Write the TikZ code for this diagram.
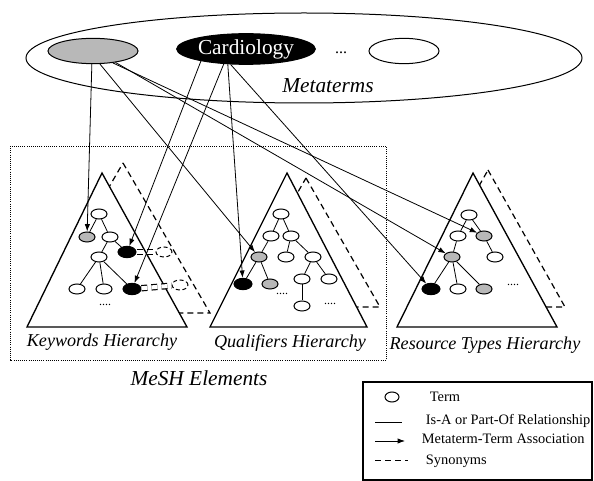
\documentclass[tikz,border=0pt]{standalone}
\usepackage{fontspec}
\setmainfont{Liberation Serif}
\usetikzlibrary{shapes.geometric,arrows.meta}
\tikzset{every picture/.style={line width=0.75pt}}

\begin{document}
\begin{tikzpicture}[x=0.75pt,y=0.75pt,yscale=-1,xscale=1,
	term/.style={draw,ellipse,inner sep=0pt,minimum width=12pt,minimum height=7.5pt,fill=white},
	gterm/.style={term,fill=black!28},
	bterm/.style={term,fill=black,minimum width=13.5pt,minimum height=8.5pt},
	sterm/.style={term,dash pattern=on 3pt off 2pt,fill=none},
	isa/.style={line width=0.6pt},
	assoc/.style={line width=0.6pt,-{Latex[length=5.5pt,width=4pt]}},
	syn/.style={dash pattern=on 4.5pt off 3pt,line width=0.9pt},
	hier/.style={font=\fontsize{13.6}{16}\selectfont\itshape},
	tdots/.style={font=\small},
	lgd/.style={anchor=west,font=\fontsize{10.8}{13}\selectfont}]

	\useasboundingbox (0,0) rectangle (594,481);

	\node[draw,ellipse,inner sep=0pt,minimum width=417pt,minimum height=67.5pt] (mset) at (304,58) {};
	\node[draw,ellipse,inner sep=0pt,fill=black!28,minimum width=67.5pt,minimum height=19pt] (mgray) at (93,51) {};
	\node[draw,ellipse,inner sep=0pt,fill=black,text=white,minimum width=104pt,minimum height=23pt,font=\fontsize{16}{18}\selectfont] (mcard) at (246,49) {Cardiology};
	\node[anchor=base,font=\fontsize{12}{14}\selectfont] (mdots) at (341,54) {...};
	\node[draw,ellipse,inner sep=0pt,minimum width=52.5pt,minimum height=19pt] (mwhite) at (404,51) {};
	\node[font=\fontsize{16}{18}\selectfont\itshape] (lmeta) at (328,86) {Metaterms};

	\draw[densely dotted,line width=0.6pt] (10,146) rectangle (386,360);
	\node[font=\fontsize{16}{18}\selectfont\itshape] (lmesh) at (199,378) {MeSH Elements};

	\draw[syn] (123,163) -- (210,313) -- (36,313) -- cycle;
	\draw[fill=white,line width=1pt] (102,173) -- (187,327) -- (27,327) -- cycle;
	\draw[syn] (306,178) -- (380,307) -- (232,307) -- cycle;
	\draw[fill=white,line width=1pt] (287,173) -- (367,327) -- (210,327) -- cycle;
	\draw[syn] (488,170) -- (565,307) -- (411,307) -- cycle;
	\draw[fill=white,line width=1pt] (473,173) -- (557,327) -- (397,327) -- cycle;

	\node[hier] (lkey) at (102,342) {Keywords Hierarchy};
	\node[hier] (lqual) at (290,343) {Qualifiers Hierarchy};
	\node[hier] (lres) at (485,345) {Resource Types Hierarchy};

	\node[term] (k1) at (99,214) {};
	\node[gterm] (k2) at (87,237) {};
	\node[term] (k3) at (110,237) {};
	\node[bterm] (kb1) at (127,252) {};
	\node[term] (k4) at (99,257) {};
	\node[term] (k5) at (77,289) {};
	\node[term] (k6) at (104,289) {};
	\node[bterm] (kb2) at (132,289) {};
	\node[sterm] (ks1) at (164,252) {};
	\node[sterm] (ks2) at (180,285) {};
	\node[tdots] (kdots) at (105,305) {....};
	\draw[isa] (k1) -- (k2);
	\draw[isa] (k1) -- (k3);
	\draw[isa] (k3) -- (kb1);
	\draw[isa] (k3) -- (k4);
	\draw[isa] (k4) -- (k5);
	\draw[isa] (k4) -- (k6);
	\draw[isa] (k4) -- (kb2);
	\draw[syn,double,double distance=3pt] (kb1) -- (ks1);
	\draw[syn,double,double distance=3pt] (kb2) -- (ks2);

	\node[term] (q1) at (281,214) {};
	\node[term] (q2) at (271,236) {};
	\node[term] (q3) at (291,236) {};
	\node[gterm] (qg) at (259,257) {};
	\node[term] (q4) at (286,257) {};
	\node[term] (q5) at (313,257) {};
	\node[bterm] (qb) at (243,284) {};
	\node[gterm] (qg2) at (270,284) {};
	\node[term] (q6) at (302,279) {};
	\node[term] (q7) at (329,279) {};
	\node[term] (q8) at (302,306) {};
	\node[tdots] (qdots1) at (282,294) {....};
	\node[tdots] (qdots2) at (330,304) {....};
	\draw[isa] (q1) -- (q2);
	\draw[isa] (q1) -- (q3);
	\draw[isa] (q2) -- (qg);
	\draw[isa] (q3) -- (q4);
	\draw[isa] (q3) -- (q5);
	\draw[isa] (qg) -- (qb);
	\draw[isa] (qg) -- (qg2);
	\draw[isa] (q5) -- (q6);
	\draw[isa] (q5) -- (q7);
	\draw[isa] (q6) -- (q8);

	\node[term] (r1) at (469,215) {};
	\node[term] (r2) at (458,236) {};
	\node[gterm] (rg1) at (484,236) {};
	\node[gterm] (rg2) at (452,257) {};
	\node[term] (r3) at (495,257) {};
	\node[bterm] (rb) at (431,289) {};
	\node[term] (r4) at (458,289) {};
	\node[gterm] (rg3) at (484,289) {};
	\node[tdots] (rdots) at (513,285) {....};
	\draw[isa] (r1) -- (r2);
	\draw[isa] (r1) -- (rg1);
	\draw[isa] (r2) -- (rg2);
	\draw[isa] (rg1) -- (r3);
	\draw[isa] (rg2) -- (rb);
	\draw[isa] (rg2) -- (r4);
	\draw[isa] (rg2) -- (rg3);

	\draw[assoc] (mgray.-95) -- (k2);
	\draw[assoc] (mgray.-62) -- (qg);
	\draw[assoc] (mgray.-31) -- (rg1);
	\draw[assoc] (mgray.-27) -- (rg2);
	\draw[assoc] (mcard.-165) -- (kb1);
	\draw[assoc] (mcard.-146) -- (kb2);
	\draw[assoc] (mcard.-140) -- (qb);
	\draw[assoc] (mcard.-135) -- (rb);

	\draw[line width=0.9pt] (363,382) rectangle (592,480);
	\node[term,minimum width=10.5pt] (lterm) at (392,397) {};
	\node[lgd] (tterm) at (425,397) {Term};
	\coordinate (lisa1) at (375,422);
	\coordinate (lisa2) at (402,422);
	\draw[isa] (lisa1) -- (lisa2);
	\node[lgd] (tisa) at (421,421) {Is-A or Part-Of Relationship};
	\coordinate (lassoc1) at (375,441);
	\coordinate (lassoc2) at (405,441);
	\draw[assoc] (lassoc1) -- (lassoc2);
	\node[lgd] (tassoc) at (417,439) {Metaterm-Term Association};
	\coordinate (lsyn1) at (375,461);
	\coordinate (lsyn2) at (408,461);
	\draw[syn,line width=0.75pt] (lsyn1) -- (lsyn2);
	\node[lgd] (tsyn) at (421,461) {Synonyms};

\end{tikzpicture}
\end{document}
